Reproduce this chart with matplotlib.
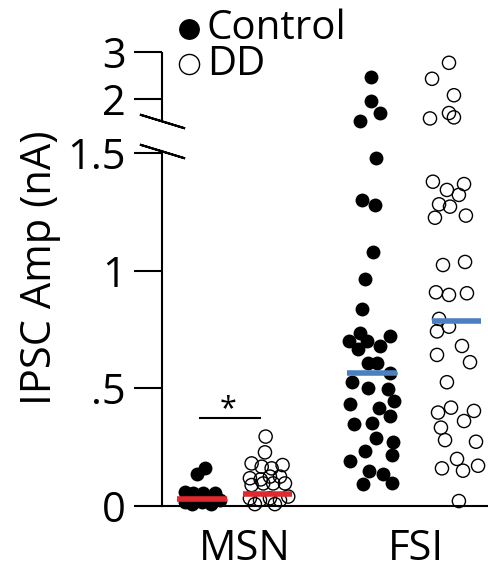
import numpy as np
import matplotlib.pyplot as plt
from matplotlib import transforms

plt.rcParams['font.family'] = ['Open Sans', 'DejaVu Sans']

categories = ['MSN', 'FSI']
y_ticks = [0, 0.5, 1, 1.5, 2, 3]
y_ticklabels = ['0', '.5', '1', '1.5', '2', '3']

# IPSC amplitude (nA) and horizontal jitter (fraction of category spacing)
msn_ctrl = [0.16, 0.136, 0.061, 0.054, 0.054, 0.057, 0.018, 0.008, 0.018, 0.018, 0.025, 0.01]
msn_ctrl_jit = [-0.234, -0.281, -0.351, -0.304, -0.246, -0.175, -0.351, -0.31, -0.251, -0.193, -0.146, -0.2]

msn_dd = [0.295, 0.228, 0.181, 0.167, 0.16, 0.174, 0.118, 0.113, 0.125, 0.125, 0.089, 0.096,
          0.096, 0.096, 0.033, 0.025, 0.033, 0.025, 0.04, 0.008, 0.008]
msn_dd_jit = [0.121, 0.117, 0.039, 0.098, 0.156, 0.22, 0.029, 0.092, 0.146, 0.205, 0.039, 0.107,
              0.165, 0.234, 0.029, 0.088, 0.146, 0.205, 0.253, 0.058, 0.175]

fsi_ctrl = [2.46, 1.98, 1.87, 1.80, 1.48, 1.30, 1.28, 1.08, 0.963, 0.836, 0.734, 0.703, 0.703,
            0.722, 0.669, 0.68, 0.606, 0.609, 0.564, 0.528, 0.503, 0.496, 0.446, 0.432, 0.415,
            0.384, 0.35, 0.354, 0.288, 0.273, 0.235, 0.217, 0.191, 0.15, 0.135, 0.093, 0.096]
fsi_ctrl_jit = [-0.263, -0.263, -0.211, -0.327, -0.234, -0.316, -0.24, -0.251, -0.298, -0.316,
                -0.327, -0.392, -0.287, -0.152, -0.339, -0.211, -0.281, -0.228, -0.152, -0.374,
                -0.281, -0.164, -0.129, -0.386, -0.216, -0.152, -0.363, -0.257, -0.234, -0.135,
                -0.298, -0.14, -0.386, -0.275, -0.193, -0.31, -0.14]

fsi_dd = [2.77, 2.43, 2.08, 1.82, 1.87, 1.83, 1.378, 1.343, 1.368, 1.322, 1.282, 1.272, 1.225,
          1.234, 1.024, 1.037, 0.908, 0.897, 0.904, 0.795, 0.762, 0.742, 0.68, 0.642, 0.611,
          0.526, 0.397, 0.418, 0.404, 0.361, 0.333, 0.28, 0.273, 0.2, 0.16, 0.15, 0.171, 0.021]
fsi_dd_jit = [0.193, 0.094, 0.222, 0.082, 0.193, 0.222, 0.099, 0.181, 0.281, 0.251, 0.135,
              0.199, 0.111, 0.292, 0.158, 0.287, 0.117, 0.193, 0.298, 0.135, 0.193, 0.123,
              0.269, 0.123, 0.316, 0.181, 0.129, 0.205, 0.339, 0.281, 0.146, 0.17, 0.351,
              0.24, 0.152, 0.275, 0.363, 0.251]

medians = [0.03, 0.051, 0.567, 0.787]
median_colors = ['#e0282e', '#e0282e', '#4a80c0', '#4a80c0']


def fwd(y):
    y = np.asarray(y, dtype=float)
    return np.where(y <= 1.5, y,
                    np.where(y <= 2, 1.5 + (y - 1.5) * 0.459, 1.7295 + (y - 2) * 0.1997))


def inv(t):
    t = np.asarray(t, dtype=float)
    return np.where(t <= 1.5, t,
                    np.where(t <= 1.7295, 1.5 + (t - 1.5) / 0.459, 2 + (t - 1.7295) / 0.1997))


W, H = 489, 569
fig = plt.figure(figsize=(W / 100, H / 100), dpi=100)
ax = fig.add_axes([162 / W, 1 - 506 / H, 327 / W, 454 / H])
ax.set_yscale('function', functions=(fwd, inv))
ax.set_ylim(0, 3)
ax.set_xlim(-0.485, 1.427)

# points
ax.scatter(0 + np.array(msn_ctrl_jit), msn_ctrl, s=100, c='black', linewidths=0, clip_on=False, zorder=3)
ax.scatter(0 + np.array(msn_dd_jit), msn_dd, s=90, facecolors='none', edgecolors='black',
           linewidths=1.0, clip_on=False, zorder=3)
ax.scatter(1 + np.array(fsi_ctrl_jit), fsi_ctrl, s=100, c='black', linewidths=0, clip_on=False, zorder=3)
ax.scatter(1 + np.array(fsi_dd_jit), fsi_dd, s=90, facecolors='none', edgecolors='black',
           linewidths=1.0, clip_on=False, zorder=3)

# median bars
centers = [-0.251, 0.132, 1 - 0.257, 1 + 0.237]
for c, m, col in zip(centers, medians, median_colors):
    ax.plot([c - 0.146, c + 0.146], [m, m], color=col, lw=4, solid_capstyle='butt', zorder=4)

# significance
ax.plot([-0.263, 0.088], [0.376, 0.376], color='black', lw=1.5)
ax.text(-0.099, 0.41, '*', ha='center', va='center', fontsize=22)

# axes styling
for s in ['top', 'right']:
    ax.spines[s].set_visible(False)
ax.spines['left'].set_linewidth(1.5)
ax.spines['bottom'].set_linewidth(1.5)
ax.spines['left'].set_bounds(0, 1.514)
trans = transforms.blended_transform_factory(ax.transAxes, ax.transData)
ax.plot([0, 0], [1.797, 3], transform=trans, color='black', lw=1.5, clip_on=False,
        solid_capstyle='butt')
for yb in [1.514, 1.797]:
    ax.plot([0], [yb], transform=trans, marker=(2, 2, 73), ms=34, mew=1.5, color='black',
            clip_on=False)

ax.set_yticks(y_ticks)
ax.set_yticklabels(y_ticklabels)
ax.minorticker = None
ax.yaxis.set_minor_locator(plt.NullLocator())
ax.tick_params(axis='y', length=20, width=1.5, pad=6, labelsize=30)
ax.set_xticks([0, 1])
ax.set_xticklabels(categories)
ax.tick_params(axis='x', length=0, pad=16, labelsize=30)

fig.text(40 / W, 1 - 268 / H, 'IPSC Amp (nA)', rotation=90, ha='center', va='center', fontsize=30)

# legend
ax.plot([189 / W], [1 - 29 / H], transform=fig.transFigure, marker='o', ms=15, color='black',
        mew=0, clip_on=False)
ax.plot([189 / W], [1 - 64 / H], transform=fig.transFigure, marker='o', ms=14.5, mfc='none',
        mec='black', mew=1.0, clip_on=False)
fig.text(207 / W, 1 - 39 / H, 'Control', ha='left', va='baseline', fontsize=29)
fig.text(207 / W, 1 - 75 / H, 'DD', ha='left', va='baseline', fontsize=29)

fig.savefig('out.png', dpi=100)
